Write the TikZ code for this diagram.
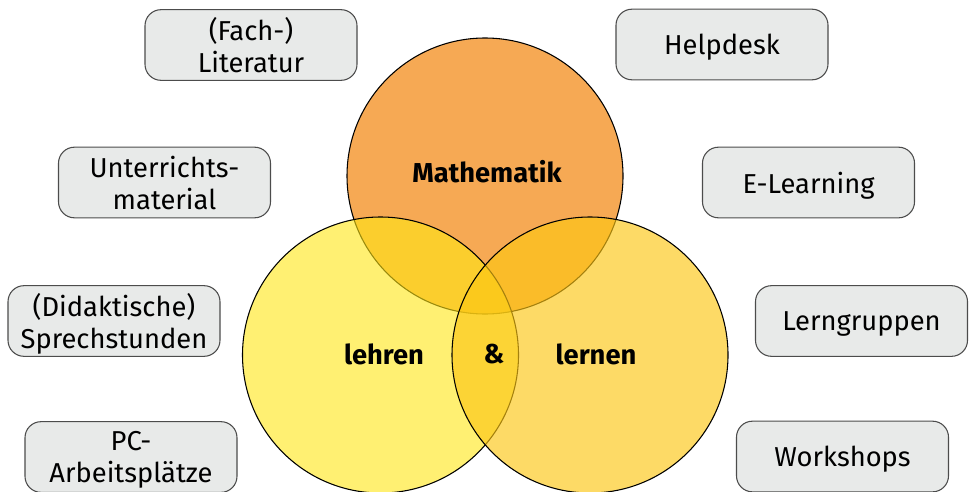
\documentclass[tikz,border=0pt]{standalone}
\usepackage{fontspec}
\setmainfont{Fira Sans}
\begin{document}
\begin{tikzpicture}[x=0.75pt,y=-0.75pt,
  infobox/.style={draw=black!70,line width=0.8pt,fill=boxgray,rounded corners=12pt,
    minimum width=159pt,minimum height=53pt,align=center,inner sep=0pt,
    font=\fontsize{20.5}{24}\selectfont},
  ring/.style={draw=black,line width=0.8pt,circle,minimum size=207pt,inner sep=0pt},
  biglabel/.style={font=\fontsize{20.5}{24}\selectfont\bfseries}]
\definecolor{boxgray}{RGB}{232,234,233}
\definecolor{mathorange}{RGB}{241,127,0}
\definecolor{lehryellow}{RGB}{255,230,20}
\definecolor{lernyellow}{RGB}{252,198,20}
\useasboundingbox (0,0) rectangle (970,492);
% circles
\node[ring,fill=mathorange,fill opacity=0.67] (mathe) at (485,176) {};
\node[ring,fill=lehryellow,fill opacity=0.6] (lehren) at (380.5,355) {};
\node[ring,fill=lernyellow,fill opacity=0.65] (lernen) at (590,355) {};
% labels
\node[biglabel] (tmathe) at (487,172) {Mathematik};
\node[biglabel] (tlehren) at (384,354) {lehren};
\node[biglabel] (tund) at (494,354) {\&};
\node[biglabel] (tlernen) at (596,354) {lernen};
% boxes
\begin{scope}[every node/.append style={text depth=0pt}]
\node[infobox] (fach) at (251,45) {(Fach-)\\Literatur};
\node[infobox] (help) at (722,44.5) {Helpdesk};
\node[infobox] (unter) at (164.5,182.5) {Unterrichts-\\material};
\node[infobox] (elearn) at (808.5,182.5) {E-Learning};
\node[infobox] (didak) at (114,321) {(Didaktische)\\Sprechstunden};
\node[infobox] (lerng) at (861.5,321) {Lerngruppen};
\node[infobox] (pc) at (131,457) {PC-\\Arbeitsplätze};
\node[infobox] (work) at (842.5,456.5) {Workshops};
\end{scope}
\end{tikzpicture}
\end{document}
